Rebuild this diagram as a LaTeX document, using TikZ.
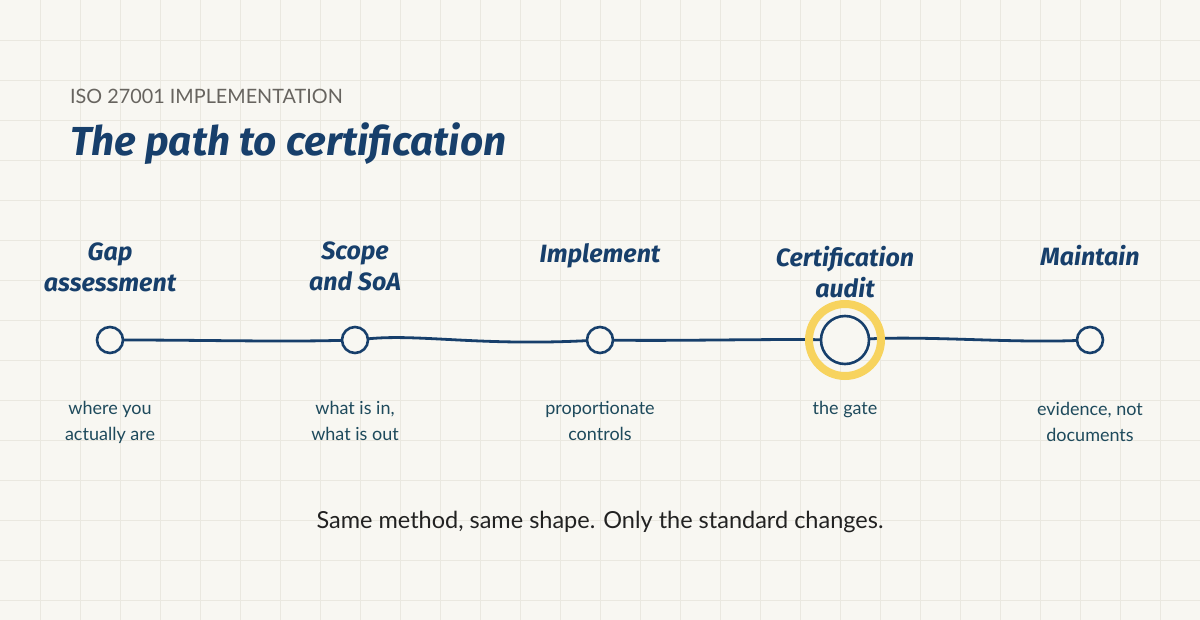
\documentclass[tikz,border=0pt]{standalone}
\usepackage{fontspec}
\setmainfont{Lato}
\newfontfamily\hand{Fira Sans}
\definecolor{bgc}{HTML}{F8F7F2}
\definecolor{gridc}{HTML}{EAE8E0}
\definecolor{navy}{HTML}{173F6B}
\definecolor{subc}{HTML}{1E4A5C}
\definecolor{gold}{HTML}{F7D35E}
\definecolor{headc}{HTML}{67645F}
\definecolor{footc}{HTML}{222222}
\pgfdeclarelayer{gridlayer}
\pgfdeclarelayer{linklayer}
\pgfsetlayers{gridlayer,linklayer,main}
\begin{document}
\begin{tikzpicture}[x=1pt,y=-1pt,
  stage/.style={circle, draw=navy, line width=2.6pt, fill=bgc, minimum size=26pt, inner sep=0pt},
  gate/.style={stage, minimum size=48pt},
  halo/.style={circle, draw=gold, line width=8pt, minimum size=72pt, inner sep=0pt},
  link/.style={draw=navy, line width=2.8pt, line cap=round},
  lbl/.style={font=\hand\bfseries\itshape\fontsize{25}{31}\selectfont, text=navy, align=center, anchor=north, inner sep=0pt},
  sub/.style={font=\fontsize{18}{26}\selectfont, text=subc, align=center, anchor=north, inner sep=0pt}]
\useasboundingbox (0,0) rectangle (1200,620);
\begin{pgfonlayer}{gridlayer}
\fill[bgc] (0,0) rectangle (1200,620);
\foreach \x in {40,80,...,1160} \draw[gridc, line width=0.8pt] (\x,0) -- (\x,620);
\foreach \y in {40,80,...,600} \draw[gridc, line width=0.8pt] (0,\y) -- (1200,\y);
\end{pgfonlayer}

\node[anchor=base west, inner sep=0pt, text=headc, font=\fontsize{19.8}{24}\selectfont] (head) at (70,104) {ISO 27001 IMPLEMENTATION};
\node[anchor=base west, inner sep=0pt, text=navy, font=\hand\bfseries\itshape\fontsize{40.5}{46}\selectfont] (title) at (70,156) {The path to certification};

\node[stage] (s1) at (110,340) {};
\node[stage] (s2) at (355,340) {};
\node[stage] (s3) at (600,340) {};
\node[halo] (ring) at (845,340) {};
\node[gate] (s4) at (845,340) {};
\node[stage] (s5) at (1090,340) {};

\begin{pgfonlayer}{linklayer}
\draw[link] (s1) .. controls (200,340) and (280,342) .. (s2);
\draw[link] (s2) .. controls (420,334) and (480,346) .. (s3);
\draw[link] (s3) .. controls (680,341) and (760,339) .. (s4);
\draw[link] (s4) .. controls (930,336) and (1010,343) .. (s5);
\end{pgfonlayer}

\node[lbl] (l1) at (110,243) {Gap\\assessment};
\node[lbl] (l2) at (355,242) {Scope\\and SoA};
\node[lbl] (l3) at (600,243) {Implement};
\node[lbl] (l4) at (845,246) {Certification\\audit};
\node[lbl] (l5) at (1090,245) {Maintain};

\node[sub] (d1) at (110,401) {where you\\actually are};
\node[sub] (d2) at (355,401) {what is in,\\what is out};
\node[sub] (d3) at (600,401) {proportionate\\controls};
\node[sub] (d4) at (845,401) {the gate};
\node[sub] (d5) at (1090,402) {evidence, not\\documents};

\node[anchor=base, inner sep=0pt, text=footc, font=\fontsize{23.5}{28}\selectfont] (foot) at (600,528) {Same method, same shape. Only the standard changes.};
\end{tikzpicture}
\end{document}
